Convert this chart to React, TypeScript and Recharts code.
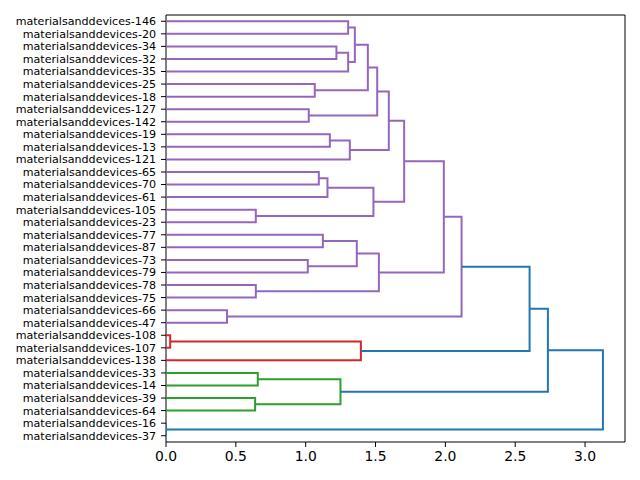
import React from 'react';
import { ScatterChart, Scatter, XAxis, YAxis, ReferenceLine } from 'recharts';

// leaf order, top to bottom
const leaves = [
  'materialsanddevices-146', 'materialsanddevices-20', 'materialsanddevices-34', 'materialsanddevices-32',
  'materialsanddevices-35', 'materialsanddevices-25', 'materialsanddevices-18', 'materialsanddevices-127',
  'materialsanddevices-142', 'materialsanddevices-19', 'materialsanddevices-13', 'materialsanddevices-121',
  'materialsanddevices-65', 'materialsanddevices-70', 'materialsanddevices-61', 'materialsanddevices-105',
  'materialsanddevices-23', 'materialsanddevices-77', 'materialsanddevices-87', 'materialsanddevices-73',
  'materialsanddevices-79', 'materialsanddevices-78', 'materialsanddevices-75', 'materialsanddevices-66',
  'materialsanddevices-47', 'materialsanddevices-108', 'materialsanddevices-107', 'materialsanddevices-138',
  'materialsanddevices-33', 'materialsanddevices-14', 'materialsanddevices-39', 'materialsanddevices-64',
  'materialsanddevices-16', 'materialsanddevices-37',
];

// merges: [childA, childB, distance]; a string is a leaf number, a number is an earlier merge
const merges: [string | number, string | number, number][] = [
  ['146', '20', 1.304], // 0
  ['34', '32', 1.22], // 1
  [1, '35', 1.304], // 2
  [0, 2, 1.352], // 3
  ['25', '18', 1.065], // 4
  [3, 4, 1.445], // 5
  ['127', '142', 1.022], // 6
  [5, 6, 1.512], // 7
  ['19', '13', 1.173], // 8
  [8, '121', 1.316], // 9
  [7, 9, 1.595], // 10
  ['65', '70', 1.094], // 11
  [11, '61', 1.156], // 12
  ['105', '23', 0.643], // 13
  [12, 13, 1.485], // 14
  [10, 14, 1.705], // 15
  ['77', '87', 1.123], // 16
  ['73', '79', 1.015], // 17
  [16, 17, 1.366], // 18
  ['78', '75', 0.643], // 19
  [18, 19, 1.524], // 20
  [15, 20, 1.989], // 21
  ['66', '47', 0.437], // 22
  [21, 22, 2.116], // 23
  ['108', '107', 0.03], // 24
  [24, '138', 1.395], // 25
  [23, 25, 2.603], // 26
  ['33', '14', 0.657], // 27
  ['39', '64', 0.638], // 28
  [27, 28, 1.249], // 29
  [26, 29, 2.734], // 30
  ['16', '37', 0.0], // 31
  [30, 31, 3.128], // 32
];

// cluster of each merge link (C0 = above threshold)
const mergeCluster = [
  'C4', 'C4', 'C4', 'C4', 'C4', 'C4', 'C4', 'C4', 'C4', 'C4', 'C4', 'C4', 'C4', 'C4', 'C4', 'C4',
  'C4', 'C4', 'C4', 'C4', 'C4', 'C4', 'C4', 'C4',
  'C3', 'C3',
  'C0',
  'C2', 'C2', 'C2',
  'C0', 'C0', 'C0',
];

const xTicks = [0, 0.5, 1, 1.5, 2, 2.5, 3];
const xMax = 3.286;

const COLORS: Record<string, string> = {
  C0: '#1f77b4',
  C2: '#2ca02c',
  C3: '#d62728',
  C4: '#9467bd',
};

const pos: number[] = [];
const height: number[] = [];
const nodeInfo = (n: string | number) => {
  if (typeof n === 'string') {
    return { y: leaves.indexOf('materialsanddevices-' + n) + 0.5, x: 0 };
  }
  return { y: pos[n], x: height[n] };
};

const links = merges.map(([a, b, h], i) => {
  const A = nodeInfo(a);
  const B = nodeInfo(b);
  pos[i] = (A.y + B.y) / 2;
  height[i] = h;
  return {
    color: COLORS[mergeCluster[i]],
    points: [
      { x: A.x, y: A.y },
      { x: h, y: A.y },
      { x: h, y: B.y },
      { x: B.x, y: B.y },
    ],
  };
});

export default function App() {
  return (
    <div style={{ position: 'absolute', left: 0, top: 0, width: 640, height: 480, background: '#fff', fontFamily: '"DejaVu Sans", sans-serif' }}>
      <ScatterChart width={640} height={480} margin={{ top: 15, right: 15, bottom: 8, left: 0 }}>
        <XAxis
          type="number"
          dataKey="x"
          domain={[0, xMax]}
          ticks={xTicks}
          interval={0}
          height={30}
          tickFormatter={(v: number) => v.toFixed(1)}
          stroke="#000"
          tick={{ fill: '#000', fontSize: 13.9 }}
          tickSize={5}
          tickMargin={4}
          allowDataOverflow
        />
        <YAxis
          type="number"
          dataKey="y"
          domain={[0, leaves.length]}
          reversed
          width={166}
          ticks={leaves.map((_, i) => i + 0.5)}
          interval={0}
          tickFormatter={(v: number) => leaves[Math.round(v - 0.5)]}
          stroke="#000"
          tick={{ fill: '#000', fontSize: 11.1 }}
          tickSize={5}
          tickMargin={5}
          allowDataOverflow
        />
        {links.map((l, i) => (
          <Scatter
            key={i}
            data={l.points}
            fill={l.color}
            line={{ stroke: l.color, strokeWidth: 2 }}
            lineType="joint"
            shape={() => <g />}
            isAnimationActive={false}
          />
        ))}
        <ReferenceLine y={0} stroke="#000" strokeWidth={1} />
        <ReferenceLine x={xMax} stroke="#000" strokeWidth={1} />
      </ScatterChart>
    </div>
  );
}
